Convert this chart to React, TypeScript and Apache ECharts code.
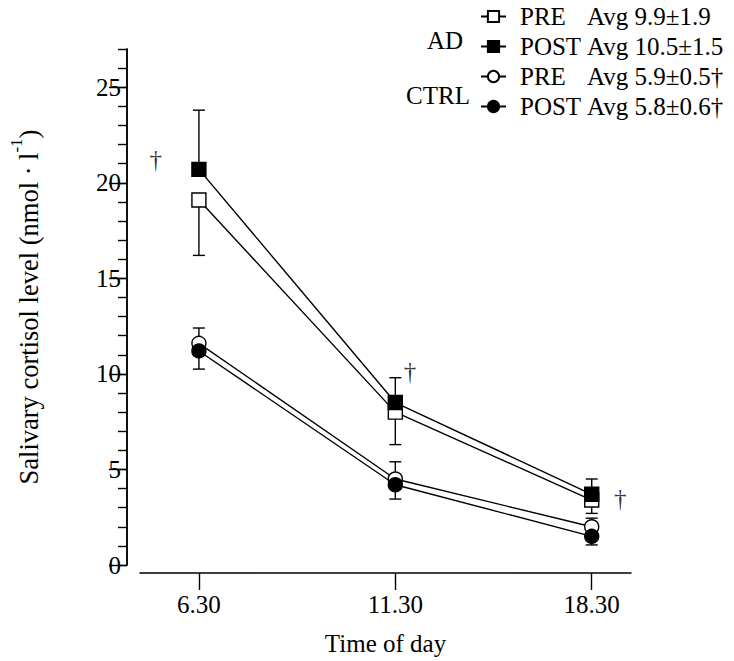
import React, { useEffect, useRef } from "react";
import * as echarts from "echarts";

const times = ["6.30", "11.30", "18.30"];
const yTicks = [0, 5, 10, 15, 20, 25];
const seriesNames = ["AD PRE", "AD POST", "CTRL PRE", "CTRL POST"];
const legendGroups = ["PRE", "POST", "PRE", "POST"];
const legendAvgs = ["Avg 9.9±1.9", "Avg 10.5±1.5", "Avg 5.9±0.5†", "Avg 5.8±0.6†"];

const adPre = [19.1, 8.0, 3.4];
const adPost = [20.7, 8.5, 3.7];
const ctrlPre = [11.6, 4.5, 2.0];
const ctrlPost = [11.2, 4.2, 1.5];

// error bar lengths (SD) and direction (+1 up, -1 down)
const adPreErr = [2.9, 1.7, 0.7];
const adPostErr = [3.1, 1.3, 0.8];
const ctrlPreErr = [0.8, 0.9, 0.45];
const ctrlPostErr = [0.95, 0.75, 0.45];
const errDir = [-1, 1, 1, -1];

const daggers = [
  [-0.22, 21.2],
  [1.075, 10.1],
  [2.145, 3.5],
];

const FONT = "Liberation Serif";
const FS = 25;

export default function App() {
  const ref = useRef<HTMLDivElement>(null);
  useEffect(() => {
    if (!ref.current) return;
    document.body.style.margin = "0";
    const chart = echarts.init(ref.current, undefined, { renderer: "svg" });
    const means = [adPre, adPost, ctrlPre, ctrlPost];
    const errs = [adPreErr, adPostErr, ctrlPreErr, ctrlPostErr];
    const symbols = ["rect", "rect", "circle", "circle"];
    const fills = ["#fff", "#000", "#fff", "#000"];

    const errData: number[][] = [];
    means.forEach((m, s) => {
      m.forEach((v, i) => {
        errData.push([i, v, v + errDir[s] * errs[s][i]]);
      });
    });

    const lineSeries = seriesNames.map((name, s) => ({
      name,
      type: "line",
      z: 3,
      data: means[s].map((v, i) => [i, v]),
      symbol: symbols[s],
      symbolSize: 14,
      lineStyle: { color: "#000", width: 1.4 },
      itemStyle: { color: fills[s], borderColor: "#000", borderWidth: 1.4 },
    }));

    chart.setOption({
      animation: false,
      textStyle: { fontFamily: FONT, color: "#000" },
      grid: { left: 132, right: 103, top: 49, bottom: 91 },
      legend: {
        orient: "vertical",
        left: 480,
        top: 4,
        padding: 0,
        itemWidth: 25,
        itemHeight: 14,
        itemGap: 5,
        data: seriesNames,
        formatter: (name: string) => {
          const i = seriesNames.indexOf(name);
          return `{a|${legendGroups[i]}}{b|${legendAvgs[i]}}`;
        },
        textStyle: {
          fontFamily: FONT,
          color: "#000",
          fontSize: FS,
          rich: {
            a: { fontFamily: FONT, fontSize: FS, width: 67, padding: [0, 0, 0, 9], lineHeight: 26, color: "#000" },
            b: { fontFamily: FONT, fontSize: FS, lineHeight: 26, color: "#000" },
          },
        },
      },
      graphic: [
        { type: "text", right: 734 - 463, top: 28, style: { text: "AD", font: `${FS}px "${FONT}"`, fill: "#000" } },
        { type: "text", right: 734 - 470, top: 83, style: { text: "CTRL", font: `${FS}px "${FONT}"`, fill: "#000" } },
      ],
      xAxis: {
        type: "value",
        min: -0.3,
        max: 2.2,
        offset: 8,
        splitLine: { show: false },
        axisLine: { show: true, onZero: false, lineStyle: { color: "#000", width: 1.5 } },
        axisTick: { show: true, customValues: [0, 1, 2], length: 17, lineStyle: { color: "#000", width: 1.4 } },
        axisLabel: {
          customValues: [0, 1, 2],
          formatter: (v: number) => times[Math.round(v)] ?? "",
          fontSize: FS,
          fontFamily: FONT,
          color: "#000",
          margin: 19,
        },
        name: "Time of day",
        nameLocation: "middle",
        nameGap: 58,
        nameTextStyle: { fontSize: FS, fontFamily: FONT, color: "#000" },
      },
      yAxis: [
        {
          type: "value",
          min: 0,
          max: 27,
          position: "left",
          offset: 13,
          splitLine: { show: false },
          axisLine: { show: true, onZero: false, lineStyle: { color: "#000", width: 1.5 } },
          axisTick: { show: true, customValues: yTicks, length: 18, lineStyle: { color: "#000", width: 1.4 } },
          axisLabel: { customValues: yTicks, fontSize: FS, fontFamily: FONT, color: "#000", margin: 6 },
          name: "{n|Salivary cortisol level (nmol · l}{sup|-1}{n|)}",
          nameLocation: "middle",
          nameGap: 85,
          nameTextStyle: {
            fontSize: 26.5,
            fontFamily: FONT,
            color: "#000",
            rich: {
              n: { fontSize: 26.5, fontFamily: FONT, color: "#000", lineHeight: 34, verticalAlign: "bottom" },
              sup: { fontSize: 17, fontFamily: FONT, color: "#000", lineHeight: 16, verticalAlign: "top" },
            },
          },
        },
        {
          type: "value",
          min: 0,
          max: 27,
          interval: 1,
          position: "left",
          offset: 13,
          splitLine: { show: false },
          axisLine: { show: true, onZero: false, lineStyle: { color: "#000", width: 1.5 } },
          axisTick: { show: true, length: 9, lineStyle: { color: "#000", width: 1.4 } },
          axisLabel: { show: false },
        },
      ],
      series: [
        {
          type: "custom",
          z: 1,
          data: errData,
          encode: { x: 0, y: [1, 2] },
          renderItem: (params: any, api: any) => {
            const x = api.value(0);
            const p1 = api.coord([x, api.value(1)]);
            const p2 = api.coord([x, api.value(2)]);
            const hw = 6;
            return {
              type: "group",
              children: [
                { type: "line", shape: { x1: p1[0], y1: p1[1], x2: p2[0], y2: p2[1] }, style: { stroke: "#000", lineWidth: 1.4 } },
                { type: "line", shape: { x1: p2[0] - hw, y1: p2[1], x2: p2[0] + hw, y2: p2[1] }, style: { stroke: "#000", lineWidth: 1.4 } },
              ],
            };
          },
        },
        ...lineSeries,
        {
          type: "scatter",
          data: daggers,
          symbolSize: 0,
          silent: true,
          itemStyle: { color: "#000" },
          label: {
            show: true,
            position: "inside",
            formatter: "†",
            fontSize: FS,
            fontFamily: FONT,
            color: "#000",
          },
        },
      ],
    });
    return () => chart.dispose();
  }, []);
  return <div ref={ref} style={{ width: 734, height: 661 }} />;
}
